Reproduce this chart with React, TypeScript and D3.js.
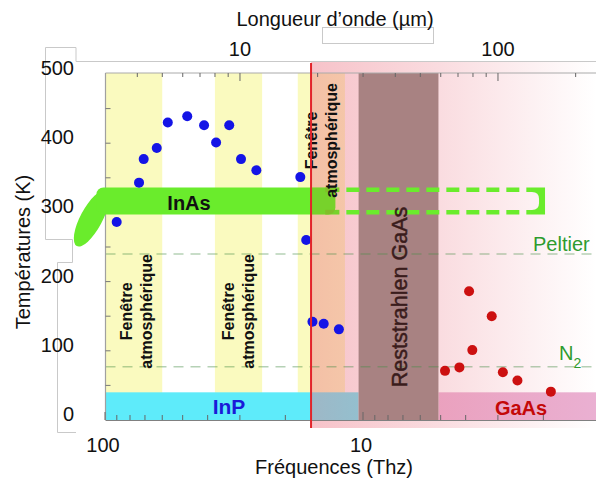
import React from 'react';
import * as d3 from 'd3';

const W = 596;
const H = 481;
const FONT = "'Liberation Sans', Arial, Helvetica, sans-serif";

// ---- data ----
const blueFreq = [90.1, 73.8, 70.8, 63.0, 57.1, 48.0, 41.3, 37.1, 33.0, 29.7, 25.9, 17.5, 16.6, 15.7, 14.2, 12.4];
const blueTemp = [286, 343, 377, 393, 430, 439, 426, 401, 426, 377, 361, 351, 260, 142, 139, 131];
const redFreq = [4.81, 4.23, 3.88, 3.77, 3.17, 2.87, 2.52, 1.87];
const redTemp = [71, 76, 186, 101, 150, 69, 57, 41];
const windowStart = [100, 37.5, 17.9];
const windowEnd = [60, 24.6, 11.75];
const windowLabelT = [157, 157, 404];
const reststrahlenFreq = [10.4, 5.1];
const cutoffFreq = 15.9;
const inasTemp = [297, 336];
const inasBlobFreq = 113;
const inasBlobTemp = 291;
const inasStartFreq = 108;
const inasSolidEnd = 12.8;
const inasDashedEnd = 1.97;
const bandTopTemp = 40;
const peltierT = 240;
const n2T = 77;
const yLabels = [0, 100, 200, 300, 400, 500];
const yMinor = [50, 100, 150, 200, 250, 300, 350, 400, 450];
const freqLabels = [100, 10];
const freqMinor = [90, 80, 70, 60, 50, 40, 30, 20, 9, 8, 7, 6, 5, 4, 3, 2];
const lambdaLabels = [10, 100];
const lambdaMinor = [4, 5, 6, 7, 8, 9, 20, 30, 40, 50, 60, 70, 80, 90, 200];

export default function App() {
  const x = d3.scaleLog().domain([100, 1]).range([105, 621]);
  const y = d3.scaleLinear().domain([0, 500]).range([420, 74]);
  const plotL = 105.5;
  const plotR = 596;
  const plotT = 73;
  const plotB = 420;
  const lam2f = (l: number) => 299.8 / l;

  const xCut = x(cutoffFreq);
  const yTop = y(inasTemp[1]);
  const yBot = y(inasTemp[0]);
  const xSolid = x(inasSolidEnd);
  const xEnd = x(inasDashedEnd);
  const sw = 4.6;
  const yTopC = yTop + sw / 2;
  const yBotC = yBot - sw / 2;

  const endPath = `M${xEnd - 15} ${yTop} H${xEnd} V${yBot} H${xEnd - 15} V${yBot - sw} H${xEnd - 13} Q${xEnd - 6} ${yBot - sw} ${xEnd - 6} ${yBot - sw - 7} V${yTop + sw + 7} Q${xEnd - 6} ${yTop + sw} ${xEnd - 13} ${yTop + sw} H${xEnd - 15} Z`;

  const inasSolid = (fill: string, key: string) => (
    <g key={key} fill={fill}>
      <ellipse
        cx={x(inasBlobFreq)}
        cy={y(inasBlobTemp)}
        rx={11}
        ry={31}
        transform={`rotate(28 ${x(inasBlobFreq)} ${y(inasBlobTemp)})`}
      />
      <rect x={x(inasStartFreq)} y={yTop} width={xSolid - x(inasStartFreq)} height={yBot - yTop} rx={7} />
      <rect x={xSolid - 10} y={yTop} width={14} height={sw} />
      <rect x={xSolid - 10} y={yBot - sw} width={14} height={sw} />
    </g>
  );

  const green = '#6aec2c';

  return (
    <svg
      width={W}
      height={H}
      style={{ position: 'absolute', left: 0, top: 0, background: '#fff' }}
      fontFamily={FONT}
    >
      <defs>
        <linearGradient id="pinkGrad" gradientUnits="userSpaceOnUse" x1={xCut} x2={plotR} y1={0} y2={0}>
          <stop offset="0" stopColor="rgb(236,120,135)" stopOpacity="0.45" />
          <stop offset="0.45" stopColor="rgb(236,120,135)" stopOpacity="0.26" />
          <stop offset="1" stopColor="rgb(236,120,135)" stopOpacity="0" />
        </linearGradient>
        <clipPath id="overlapClip">
          <rect x={xCut} y={0} width={60} height={H} />
        </clipPath>
      </defs>
      <rect width={W} height={H} fill="#fff" />

      {/* decorative frame lines */}
      <path d="M76 61.5 H596 M76 61.5 V47.5 H45.5 V239.5 H72.5 V262.5 H57.5 V432.5 H76" fill="none" stroke="#c9c9c9" strokeWidth={1} />
      <rect x={322.5} y={27.5} width={111} height={16} fill="none" stroke="#c9c9c9" strokeWidth={1} />

      {/* atmospheric windows */}
      {windowStart.map((f, i) => (
        <rect key={'w' + i} x={x(f)} y={plotT} width={x(windowEnd[i]) - x(f)} height={plotB - plotT} fill="#fafabf" />
      ))}

      {/* InP and GaAs bands */}
      <rect x={plotL} y={y(bandTopTemp)} width={x(reststrahlenFreq[0]) - plotL} height={plotB - y(bandTopTemp)} fill="#5eebfa" />
      <rect x={x(reststrahlenFreq[1])} y={y(bandTopTemp)} width={plotR - x(reststrahlenFreq[1])} height={plotB - y(bandTopTemp)} fill="#eab0d2" />

      {/* pink overlay */}
      <rect x={xCut} y={62} width={plotR - xCut} height={366} fill="url(#pinkGrad)" />

      {/* Reststrahlen */}
      <rect x={x(reststrahlenFreq[0])} y={plotT} width={x(reststrahlenFreq[1]) - x(reststrahlenFreq[0])} height={plotB - plotT} fill="#a88282" />

      {/* Peltier / N2 lines */}
      {[peltierT, n2T].map((t, i) => (
        <line key={'h' + i} x1={plotL} x2={plotR} y1={y(t)} y2={y(t)} stroke="rgba(70,140,70,0.4)" strokeWidth={1.5} strokeDasharray="10 7" />
      ))}

      {/* frame */}
      <line x1={plotL} x2={plotR} y1={plotT} y2={plotT} stroke="#aaa" strokeWidth={1} />
      <line x1={plotL} x2={plotL} y1={plotT} y2={plotB} stroke="#a0a0a0" strokeWidth={1.2} />
      <line x1={plotL} x2={plotR} y1={plotB + 0.5} y2={plotB + 0.5} stroke="#808080" strokeWidth={1.2} />

      {/* ticks */}
      {yMinor.map((t) => (
        <line key={'yt' + t} x1={plotL} x2={plotL + 5} y1={y(t)} y2={y(t)} stroke="#777" />
      ))}
      {freqMinor.map((f) => (
        <line key={'fm' + f} x1={x(f)} x2={x(f)} y1={plotB} y2={plotB - 5} stroke="#666" />
      ))}
      {freqLabels.map((f) => (
        <line key={'fM' + f} x1={x(f)} x2={x(f)} y1={plotB} y2={plotB - 8} stroke="#666" />
      ))}
      {lambdaMinor.map((l) => (
        <line key={'lm' + l} x1={x(lam2f(l))} x2={x(lam2f(l))} y1={plotT} y2={plotT + 4} stroke="#666" />
      ))}
      {lambdaLabels.map((l) => (
        <line key={'lM' + l} x1={x(lam2f(l))} x2={x(lam2f(l))} y1={plotT} y2={plotT + 8} stroke="#666" />
      ))}

      {/* InAs */}
      {inasSolid(green, 'solid')}
      <g clipPath="url(#overlapClip)">{inasSolid('rgba(170,120,40,0.22)', 'dark')}</g>
      <line x1={xSolid + 4} x2={xEnd - 15} y1={yTopC} y2={yTopC} stroke={green} strokeWidth={sw} strokeDasharray="13 7" strokeDashoffset={13} />
      <line x1={xSolid + 4} x2={xEnd - 15} y1={yBotC} y2={yBotC} stroke={green} strokeWidth={sw} strokeDasharray="13 7" strokeDashoffset={13} />
      <path d={endPath} fill={green} />

      {/* axis labels */}
      {yLabels.map((t) => (
        <text key={'yl' + t} x={74} y={y(t) - 6} fontSize={20} textAnchor="end" dominantBaseline="central" fill="#111">
          {t}
        </text>
      ))}
      {freqLabels.map((f) => (
        <text key={'fl' + f} x={x(f) - 2} y={452} fontSize={20} textAnchor="middle" fill="#111">
          {f}
        </text>
      ))}
      {lambdaLabels.map((l) => (
        <text key={'ll' + l} x={x(lam2f(l))} y={56} fontSize={20} textAnchor="middle" fill="#111">
          {l}
        </text>
      ))}
      <text x={335} y={26} fontSize={20} textAnchor="middle" fill="#111">Longueur d’onde (µm)</text>
      <text x={334} y={474} fontSize={20} textAnchor="middle" fill="#111">Fréquences (Thz)</text>
      <text transform="translate(23,252) rotate(-90)" fontSize={20} textAnchor="middle" dominantBaseline="central" fill="#111">
        Températures (K)
      </text>

      {/* window labels */}
      {windowStart.map((f, i) => {
        const cx = (x(f) + x(windowEnd[i])) / 2 + (i === 0 ? 3 : 0);
        const cy = y(windowLabelT[i]);
        return (
          <g key={'wl' + i} fontSize={16} fontWeight="bold" fill="#111" textAnchor="middle">
            <text transform={`translate(${cx - 10},${cy}) rotate(-90)`} dominantBaseline="central">Fenêtre</text>
            <text transform={`translate(${cx + 10},${cy}) rotate(-90)`} dominantBaseline="central">atmosphérique</text>
          </g>
        );
      })}

      <text
        transform={`translate(${(x(reststrahlenFreq[0]) + x(reststrahlenFreq[1])) / 2 + 1},297) rotate(-90)`}
        fontSize={21.5}
        textAnchor="middle"
        dominantBaseline="central"
        fill="#3a1c1c"
        stroke="#3a1c1c"
        strokeWidth={0.5}
      >
        Reststrahlen GaAs
      </text>

      <text x={189} y={210} fontSize={20} fontWeight="bold" textAnchor="middle" fill="#111">InAs</text>
      <text x={229} y={414} fontSize={21} fontWeight="bold" textAnchor="middle" fill="#1a1ad8">InP</text>
      <text x={521} y={415} fontSize={20} fontWeight="bold" textAnchor="middle" fill="#c40808">GaAs</text>
      <text x={533} y={251} fontSize={20} fill="#2e9b2e">Peltier</text>
      <text x={559} y={360} fontSize={20} fill="#2e9b2e">
        N<tspan fontSize={14} dy={8}>2</tspan>
      </text>

      {/* dots */}
      {blueFreq.map((f, i) => (
        <circle key={'b' + i} cx={x(f)} cy={y(blueTemp[i])} r={5} fill="#1414e6" />
      ))}
      {redFreq.map((f, i) => (
        <circle key={'r' + i} cx={x(f)} cy={y(redTemp[i])} r={5} fill="#cc1010" />
      ))}

      {/* cutoff red line */}
      <line x1={xCut} x2={xCut} y1={63} y2={428} stroke="#e2242a" strokeWidth={2} />
    </svg>
  );
}
